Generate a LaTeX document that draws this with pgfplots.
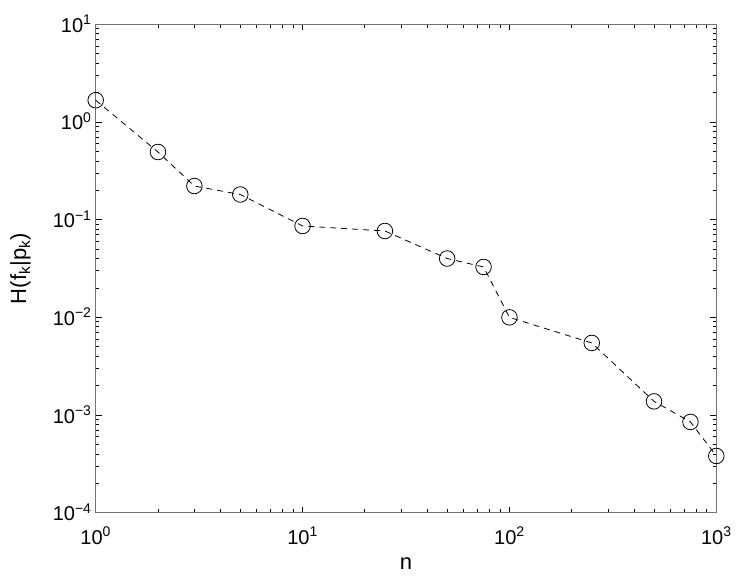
\documentclass[border=0pt]{standalone}
\usepackage{fontspec}
\setmainfont{Liberation Sans}
\usepackage{pgfplots}
\pgfplotsset{compat=1.18}
\newcommand{\logtick}[1]{10\textsuperscript{\pgfmathparse{int(round(#1))}\ifnum\pgfmathresult<0 −\number-\pgfmathresult\else\pgfmathresult\fi}}
\begin{document}
\begin{tikzpicture}[font=\fontsize{20bp}{24bp}\selectfont]
\path[use as bounding box] (-95.7bp,-66.3bp) rectangle (642.3bp,512.7bp);
\begin{axis}[
  at={(0,0)}, anchor=south west,
  scale only axis, width=620.6bp, height=488.4bp,
  xmode=log, ymode=log, log basis x=10, log basis y=10,
  xmin=1, xmax=1000, ymin=1e-4, ymax=10,
  xticklabel={\logtick{\tick}},
  yticklabel={\logtick{\tick}},
  tick align=inside,
  major tick length=6bp, minor tick length=3.5bp,
  axis line style={draw=black!55, line width=1.2bp},
  tick style={black, line width=0.7bp},
  tick label style={font=\fontsize{20bp}{24bp}\selectfont, inner sep=0pt},
  xticklabel style={anchor=base, yshift=-31.3bp},
  yticklabel style={anchor=base east, xshift=-4bp, yshift=-8bp},
  xlabel={n}, ylabel={H(f\textsubscript{k}|p\textsubscript{k})},
  label style={font=\fontsize{22bp}{26bp}\selectfont, inner sep=0pt},
  xlabel style={at={(axis description cs:0.5,-0.1159)}, anchor=base},
  ylabel style={at={(axis description cs:-0.1123,0.5)}, anchor=base, rotate=0},
  clip=false,
]
\addplot[black, line width=0.8bp, dash pattern=on 6bp off 5bp,
  mark=o, mark size=7.8bp, mark options={solid, line width=0.8bp}] coordinates {
  (1,1.67) (2,0.493) (3,0.221) (5,0.181) (10,0.0862) (25,0.0766)
  (50,0.040) (75,0.0328) (100,0.0100) (250,0.00547) (500,0.00138)
  (750,0.00085) (1000,0.000381)
};
\end{axis}
\end{tikzpicture}
\end{document}
